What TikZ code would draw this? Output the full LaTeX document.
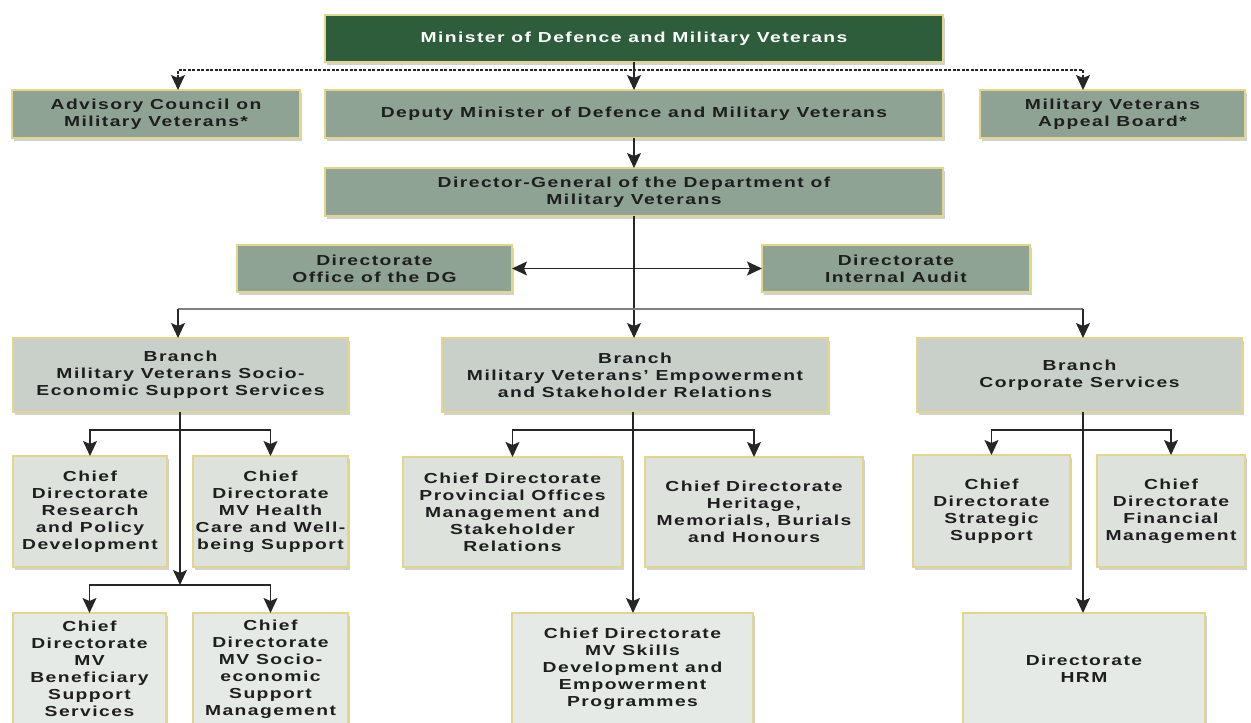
\documentclass[tikz,border=0pt]{standalone}
\usepackage{fontspec}
\usepackage{xcolor}
\usepackage{tikz}
\newfontfamily\chartfont[FakeStretch=1.33,LetterSpace=10]{Liberation Sans}
\usetikzlibrary{positioning,calc,shadows,arrows.meta}

\definecolor{ministergreen}{HTML}{2E5D3B}
\definecolor{rowgreen}{HTML}{8FA394}
\definecolor{branchgrey}{HTML}{C9D0C9}
\definecolor{chiefgrey}{HTML}{DDE2DD}
\definecolor{lowgrey}{HTML}{E6EAE6}
\definecolor{edgeyellow}{HTML}{E3D68A}
\definecolor{textdark}{HTML}{1E1E1E}

\begin{document}
\begin{tikzpicture}[x=1pt,y=-1pt,
    orgbox/.style={draw=edgeyellow, line width=1.2pt, align=center, inner sep=0pt, outer sep=0pt,
        text=textdark, font=\chartfont\bfseries\fontsize{14.5}{17}\selectfont,
        drop shadow={shadow xshift=2pt, shadow yshift=-3pt, fill=black, opacity=0.18}},
    topbox/.style={orgbox, fill=ministergreen, text=white},
    staffbox/.style={orgbox, fill=rowgreen},
    branchbox/.style={orgbox, fill=branchgrey},
    chiefbox/.style={orgbox, fill=chiefgrey},
    lowbox/.style={orgbox, fill=lowgrey},
    arr/.style={-{Stealth[length=15pt,width=14pt,inset=3pt]}, line width=1.3pt, draw=black!85},
    twoarr/.style={{Stealth[length=15pt,width=14pt,inset=3pt]}-{Stealth[length=15pt,width=14pt,inset=3pt]}, line width=1.3pt, draw=black!85}]

    \useasboundingbox (0,0) rectangle (1251,723);
    \clip (0,0) rectangle (1251,723);

    % Minister and the row below
    \node[topbox, minimum width=618pt, minimum height=47pt] (minister) at (634,38.5) {Minister of Defence and Military Veterans};
    \node[staffbox, minimum width=288pt, minimum height=48pt] (advisory) at (156,114) {Advisory Council on\\Military Veterans*};
    \node[staffbox, minimum width=618pt, minimum height=48pt] (deputy) at (634,114) {Deputy Minister of Defence and Military Veterans};
    \node[staffbox, minimum width=265pt, minimum height=48pt] (appeal) at (1112.5,114) {Military Veterans\\Appeal Board*};

    % Director-General and directorates
    \node[staffbox, minimum width=618pt, minimum height=48pt] (dg) at (634,192) {Director-General of the Department of\\Military Veterans};
    \node[staffbox, minimum width=275pt, minimum height=47pt] (office) at (374.5,268.5) {Directorate\\Office of the DG};
    \node[staffbox, minimum width=268pt, minimum height=47pt] (audit) at (896,268.5) {Directorate\\Internal Audit};

    % Branches
    \node[branchbox, minimum width=335pt, minimum height=74pt] (socioecon) at (180.5,375) {Branch\\Military Veterans Socio-\\Economic Support Services};
    \node[branchbox, minimum width=386pt, minimum height=74pt] (empower) at (635,375) {Branch\\Military Veterans’ Empowerment\\and Stakeholder Relations};
    \node[branchbox, minimum width=325pt, minimum height=74pt] (corporate) at (1079.5,375) {Branch\\Corporate Services};

    % Chief directorates
    \node[chiefbox, minimum width=154pt, minimum height=111pt] (research) at (90,511.5) {Chief\\Directorate\\Research\\and Policy\\Development};
    \node[chiefbox, minimum width=155pt, minimum height=111pt] (health) at (270.5,511.5) {Chief\\Directorate\\MV Health\\Care and Well-\\being Support};
    \node[chiefbox, minimum width=219pt, minimum height=110pt] (provincial) at (512.5,512) {Chief Directorate\\Provincial Offices\\Management and\\Stakeholder\\Relations};
    \node[chiefbox, minimum width=218pt, minimum height=110pt] (heritage) at (754,512) {Chief Directorate\\Heritage,\\Memorials, Burials\\and Honours};
    \node[chiefbox, minimum width=157pt, minimum height=112pt] (strategic) at (991.5,511) {Chief\\Directorate\\Strategic\\Support};
    \node[chiefbox, minimum width=148pt, minimum height=112pt] (financial) at (1171,511) {Chief\\Directorate\\Financial\\Management};

    % Bottom row
    \node[lowbox, minimum width=153pt, minimum height=112pt] (beneficiary) at (89.5,669) {Chief\\Directorate\\MV\\Beneficiary\\Support\\Services};
    \node[lowbox, minimum width=155pt, minimum height=112pt] (socioecmgmt) at (270.5,669) {Chief\\Directorate\\MV Socio-\\economic\\Support\\Management};
    \node[lowbox, minimum width=241pt, minimum height=112pt] (skills) at (632.5,669) {Chief Directorate\\MV Skills\\Development and\\Empowerment\\Programmes};
    \node[lowbox, minimum width=242pt, minimum height=112pt] (hrm) at (1084,669) {Directorate\\HRM};

    % Minister links
    \coordinate (ml) at (178,70);
    \coordinate (mr) at (1083,70);
    \draw[twoarr, dash pattern=on 3pt off 1.5pt] (ml |- advisory.north) -- (ml) -- (mr) -- (mr |- appeal.north);
    \draw[arr] (minister.south) -- (deputy.north);
    \draw[arr] (deputy.south) -- (dg.north);

    % DG links
    \coordinate (bl) at (178,309);
    \coordinate (br) at (1083,309);
    \draw[arr] (dg.south) -- (dg.south |- empower.north);
    \draw[twoarr] (office.east) -- (audit.west);
    \draw[black!50, line width=2.6pt] (bl) -- (br);
    \draw[arr] (bl) -- (bl |- socioecon.north);
    \draw[arr] (br) -- (br |- corporate.north);

    % Socio-economic branch
    \coordinate (s1) at (180,430);
    \coordinate (s2) at (180,585);
    \draw[arr] (s1 |- socioecon.south) -- (s2);
    \draw[arr] (s1) -| (research.north);
    \draw[arr] (s1) -| (health.north);
    \draw[arr] (s2) -| (beneficiary.north);
    \draw[arr] (s2) -| (socioecmgmt.north);

    % Empowerment branch
    \coordinate (e1) at (633,430);
    \draw[arr] (e1 |- empower.south) -- (e1 |- skills.north);
    \draw[arr] (e1) -| (provincial.north);
    \draw[arr] (e1) -| (heritage.north);

    % Corporate branch
    \coordinate (c1) at (1083,430);
    \draw[arr, line width=1.8pt] (c1 |- corporate.south) -- (c1 |- hrm.north);
    \draw[arr] (c1) -| (strategic.north);
    \draw[arr] (c1) -| (financial.north);
\end{tikzpicture}
\end{document}
